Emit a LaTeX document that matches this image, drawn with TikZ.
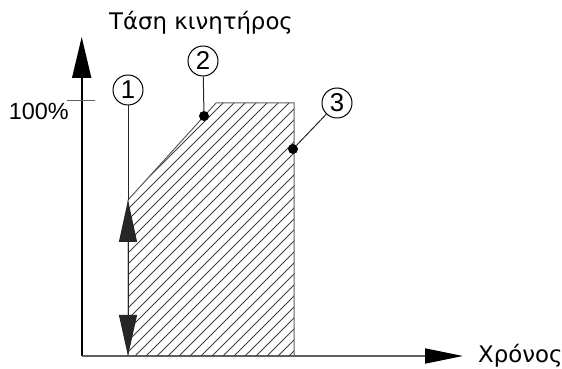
\documentclass[tikz,border=0pt]{standalone}
\usepackage{fontspec}
\setmainfont{Liberation Sans}
\newfontfamily\greekfont{DejaVu Sans}
\usetikzlibrary{arrows.meta,positioning}
\definecolor{edgegray}{RGB}{95,95,95}

\begin{document}
\begin{tikzpicture}[x=0.3mm, y=-0.3mm,
    axistext/.style={inner sep=0pt, font=\fontsize{20}{22}\selectfont},
    greektext/.style={inner sep=0pt, font=\greekfont\fontsize{19.5}{22}\selectfont},
    axis/.style={line width=0.55mm},
    border/.style={edgegray, line width=0.3mm},
    hatch/.style={black!75, line width=0.25mm},
    leader/.style={black!85, line width=0.3mm},
    callout/.style={circle, draw, line width=0.3mm, minimum size=9mm, inner sep=0pt, font=\fontsize{22}{24}\selectfont},
    joint/.style={circle, fill, inner sep=0pt, minimum size=3mm}
]
\useasboundingbox (0,0) rectangle (562,369);

% Axes
\coordinate (origin) at (81.7,356);
\coordinate (ytop) at (81.7,37);
\coordinate (xend) at (463,356);
\draw[axis, -{Triangle[length=12.3mm, width=5.7mm]}] (origin) -- (ytop);
\draw[axis, edgegray, -{Triangle[length=11.4mm, width=4.5mm, color=black]}] (origin) -- (xend);
\node (volt) [greektext, anchor=base] at (201,30) {Τάση κινητήρος};
\node (time) [greektext, right=4.5mm of xend] {Χρόνος};

% 100% mark
\coordinate (t1) at (67,101);
\coordinate (t2) at (95,101);
\draw[border] (t1) -- (t2);
\node (full) [axistext, anchor=base east] at (69,120) {100\%};

% Hatched area
\coordinate (a) at (128,356);
\coordinate (b) at (128,200);
\coordinate (c) at (216,103);
\coordinate (d) at (294,103);
\coordinate (e) at (294,356);
\begin{scope}
  \clip (a) -- (b) -- (c) -- (d) -- (e) -- cycle;
  \foreach \s in {-140,-129,...,300}
    \draw[hatch] (\s,356) -- ++(260,-260);
\end{scope}
\draw[border] (a) -- (b) -- (c) -- (d) -- (e);

% Callouts
\node (n1) [callout] at (128,90) {1};
\node (n2) [callout] at (203,61) {2};
\node (n3) [callout] at (337,103) {3};
\node (p2) [joint] at (204,116) {};
\node (p3) [joint] at (293,149) {};

\draw[leader] (n1) -- (b);
\draw[leader, {Triangle[length=12.6mm, width=5.4mm]}-{Triangle[length=12.3mm, width=5.4mm]}] (b) -- (a);
\draw[leader] (n2) -- (p2);
\draw[leader] (n3) -- (p3);

\end{tikzpicture}
\end{document}
